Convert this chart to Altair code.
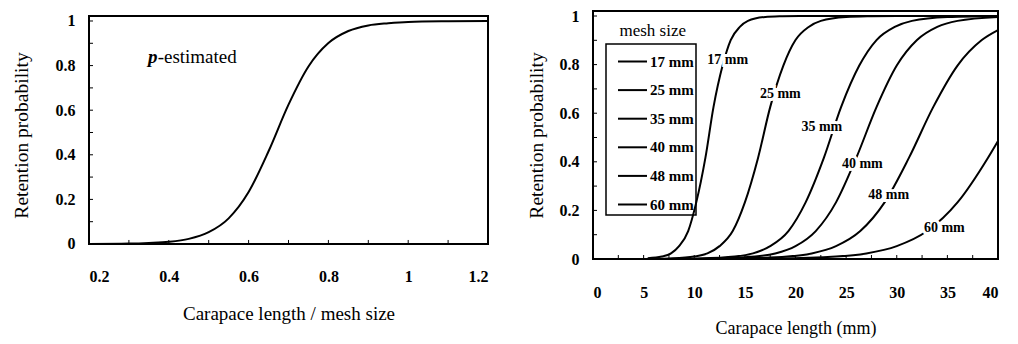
import altair as alt
import pandas as pd

FONT = "Liberation Serif"

# ---------------- left panel data (relative length) ----------------
rel_x = [0.2, 0.3, 0.35, 0.4, 0.45, 0.5, 0.55, 0.6, 0.65, 0.7, 0.75, 0.8, 0.85, 0.9, 0.95, 1.0, 1.1, 1.2]
rel_p = [0.0, 0.002, 0.005, 0.010, 0.023, 0.053, 0.115, 0.233, 0.416, 0.625, 0.796, 0.901, 0.955, 0.980, 0.990, 0.996, 0.999, 1.0]

# ---------------- right panel data (carapace length, mm) ----------------
mesh_names = ["17 mm", "25 mm", "35 mm", "40 mm", "48 mm", "60 mm"]
x17 = [5.4, 6.8, 7.7, 8.5, 9.4, 10.2, 11.1, 11.9, 12.8, 13.6, 14.5, 15.3, 17.0, 18.7, 20.4, 40]
p17 = [0.003, 0.010, 0.023, 0.053, 0.115, 0.233, 0.416, 0.625, 0.796, 0.901, 0.955, 0.980, 0.996, 0.999, 1.0, 1.0]
x25 = [6, 7.5, 10, 11.3, 12.5, 13.8, 15, 16.3, 17.5, 18.8, 20, 21.3, 22.5, 25, 27.5, 30, 40]
p25 = [0.0, 0.002, 0.010, 0.023, 0.053, 0.115, 0.233, 0.416, 0.625, 0.796, 0.901, 0.955, 0.980, 0.996, 0.999, 1.0, 1.0]
x35 = [7, 10.5, 14, 15.8, 17.5, 19.3, 21, 22.8, 24.5, 26.3, 28, 29.8, 31.5, 35, 38.5, 40]
p35 = [0.0, 0.002, 0.010, 0.023, 0.053, 0.115, 0.233, 0.416, 0.625, 0.796, 0.901, 0.955, 0.980, 0.996, 0.999, 1.0]
x40 = [8, 12, 16, 18, 20, 22, 24, 26, 28, 30, 32, 34, 36, 40]
p40 = [0.0, 0.002, 0.010, 0.023, 0.053, 0.115, 0.233, 0.416, 0.625, 0.796, 0.901, 0.955, 0.980, 0.996]
x48 = [9, 14.4, 19.2, 21.6, 24, 26.4, 28.8, 31.2, 33.6, 36, 38.4, 40]
p48 = [0.0, 0.002, 0.010, 0.023, 0.053, 0.115, 0.233, 0.416, 0.625, 0.796, 0.901, 0.942]
x60 = [10, 18, 24, 27, 30, 33, 36, 39, 40]
p60 = [0.0, 0.002, 0.010, 0.023, 0.053, 0.115, 0.233, 0.416, 0.486]

# curve labels on the right panel
lab_text = ["17 mm", "25 mm", "35 mm", "40 mm", "48 mm", "60 mm"]
lab_x = [13.3, 18.5, 22.6, 26.6, 29.2, 34.7]
lab_y = [0.82, 0.68, 0.545, 0.39, 0.263, 0.127]

# tick lists
left_x_labels = [0.2, 0.4, 0.6, 0.8, 1.0, 1.2]
left_x_minor = [0.2, 0.3, 0.4, 0.5, 0.6, 0.7, 0.8, 0.9, 1.0, 1.1, 1.2]
y_labels = [0, 0.2, 0.4, 0.6, 0.8, 1.0]
y_minor = [0, 0.1, 0.2, 0.3, 0.4, 0.5, 0.6, 0.7, 0.8, 0.9, 1.0]
right_x_labels = [0, 5, 10, 15, 20, 25, 30, 35, 40]
right_x_minor = [0, 2.5, 5, 7.5, 10, 12.5, 15, 17.5, 20, 22.5, 25, 27.5, 30, 32.5, 35, 37.5, 40]

# left frame (data extent of the left plot box)
left_frame_x = [0.2, 1.2]
left_frame_y = [0.0, 1.0224]

# ---------------- build tables ----------------
left_df = pd.DataFrame({"x": rel_x, "p": rel_p})
rows = []
for name, xs, ps in zip(mesh_names, [x17, x25, x35, x40, x48, x60], [p17, p25, p35, p40, p48, p60]):
    for xv, pv in zip(xs, ps):
        rows.append({"mesh": name, "x": xv, "p": pv})
right_df = pd.DataFrame(rows)
lab_df = pd.DataFrame({"t": lab_text, "x": lab_x, "p": lab_y})

LW = 399
RW = 405
H = 248

# ---------------- left panel ----------------
lx_scale = alt.Scale(domain=[0.2, 1.2], nice=False, zero=False)
ly_scale = alt.Scale(domain=[-0.0673, 1.0448], nice=False, zero=False)

left_x_axis = alt.Axis(values=left_x_labels, ticks=False, domain=False, grid=False,
                       labelExpr="datum.value == 1 ? '1' : format(datum.value, '.1f')",
                       labelFont=FONT, labelFontSize=16, labelFontWeight="bold", labelColor="black",
                       labelPadding=9, title="Carapace length / mesh size",
                       titleFont=FONT, titleFontSize=19, titleFontWeight="normal", titleColor="black",
                       titlePadding=20)
left_y_axis = alt.Axis(values=y_labels, ticks=False, domain=False, grid=False,
                       labelExpr="datum.value == 0 || datum.value == 1 ? format(datum.value, 'd') : format(datum.value, '.1f')",
                       labelFont=FONT, labelFontSize=16, labelFontWeight="bold", labelColor="black",
                       labelPadding=14, title="Retention probability",
                       titleFont=FONT, titleFontSize=19.5, titleFontWeight="normal", titleColor="black",
                       titlePadding=24)

left_curve = alt.Chart(left_df).mark_line(color="black", strokeWidth=2, interpolate="monotone").encode(
    x=alt.X("x:Q", scale=lx_scale, axis=left_x_axis),
    y=alt.Y("p:Q", scale=ly_scale, axis=left_y_axis),
)
left_frame = alt.Chart(pd.DataFrame({"x": [left_frame_x[0]], "x2": [left_frame_x[1]],
                                     "y": [left_frame_y[0]], "y2": [left_frame_y[1]]})).mark_rect(
    fill="transparent", stroke="black", strokeWidth=2).encode(
    x=alt.X("x:Q", scale=lx_scale), x2="x2:Q", y=alt.Y("y:Q", scale=ly_scale), y2="y2:Q")
left_yt = alt.Chart(pd.DataFrame({"v": y_minor})).mark_rule(color="black", strokeWidth=1).encode(
    y=alt.Y("v:Q", scale=ly_scale), x=alt.value(0), x2=alt.value(4))
left_xt = alt.Chart(pd.DataFrame({"v": left_x_minor, "b": [0.0] * len(left_x_minor),
                                  "t": [0.018] * len(left_x_minor)})).mark_rule(
    color="black", strokeWidth=1).encode(
    x=alt.X("v:Q", scale=lx_scale), y=alt.Y("b:Q", scale=ly_scale), y2="t:Q")

ann_df = pd.DataFrame({"t": ["p", "-estimated"], "x": [0.348, 0.372], "p": [0.84, 0.84]})
left_p = alt.Chart(ann_df.iloc[[0]]).mark_text(font=FONT, fontSize=19, fontStyle="italic", fontWeight="bold",
                                                align="left", baseline="middle", color="black").encode(
    x=alt.X("x:Q", scale=lx_scale), y=alt.Y("p:Q", scale=ly_scale), text="t:N")
left_est = alt.Chart(ann_df.iloc[[1]]).mark_text(font=FONT, fontSize=19, align="left",
                                                  baseline="middle", color="black").encode(
    x=alt.X("x:Q", scale=lx_scale), y=alt.Y("p:Q", scale=ly_scale), text="t:N")

left = alt.layer(left_frame, left_curve, left_yt, left_xt, left_p, left_est).properties(
    width=LW, height=H, view=alt.ViewBackground(stroke="transparent"))

# ---------------- right panel ----------------
rx_scale = alt.Scale(domain=[0, 40], nice=False)
ry_scale = alt.Scale(domain=[0, 1.0206], nice=False)

right_x_axis = alt.Axis(values=right_x_labels, ticks=False, domain=False, grid=False, format="d",
                        labelFont=FONT, labelFontSize=16, labelFontWeight="bold", labelColor="black",
                        labelPadding=25, title="Carapace length (mm)",
                        titleFont=FONT, titleFontSize=18, titleFontWeight="normal", titleColor="black",
                        titlePadding=19)
right_y_axis = alt.Axis(values=y_labels, ticks=False, domain=False, grid=False,
                        labelExpr="datum.value == 0 || datum.value == 1 ? format(datum.value, 'd') : format(datum.value, '.1f')",
                        labelFont=FONT, labelFontSize=16, labelFontWeight="bold", labelColor="black",
                        labelPadding=14, title="Retention probability",
                        titleFont=FONT, titleFontSize=19.5, titleFontWeight="normal", titleColor="black",
                        titlePadding=13)

right_curves = alt.Chart(right_df).mark_line(strokeWidth=2, interpolate="monotone").encode(
    x=alt.X("x:Q", scale=rx_scale, axis=right_x_axis),
    y=alt.Y("p:Q", scale=ry_scale, axis=right_y_axis),
    color=alt.Color("mesh:N", sort=mesh_names,
                    scale=alt.Scale(domain=mesh_names, range=["black"] * 6),
                    legend=alt.Legend(title=None, orient="none", legendX=517, legendY=33,
                                      strokeColor="black", padding=2, symbolType="stroke",
                                      symbolSize=841, symbolStrokeWidth=2, symbolOffset=9,
                                      labelOffset=2, labelFont=FONT, labelFontSize=15,
                                      labelFontWeight="bold", labelColor="black", rowPadding=4.6)),
)
right_yt = alt.Chart(pd.DataFrame({"v": y_minor})).mark_rule(color="black", strokeWidth=1).encode(
    y=alt.Y("v:Q", scale=ry_scale), x=alt.value(0), x2=alt.value(4))
right_xt = alt.Chart(pd.DataFrame({"v": right_x_minor})).mark_rule(color="black", strokeWidth=1).encode(
    x=alt.X("v:Q", scale=rx_scale), y=alt.value(H), y2=alt.value(H - 4))

halo = alt.Chart(lab_df).mark_text(font=FONT, fontSize=14, fontWeight="bold", stroke="white",
                                   strokeWidth=6, color="white", align="center", baseline="middle").encode(
    x=alt.X("x:Q", scale=rx_scale), y=alt.Y("p:Q", scale=ry_scale), text="t:N")
labels = alt.Chart(lab_df).mark_text(font=FONT, fontSize=14, fontWeight="bold", color="black",
                                     align="center", baseline="middle").encode(
    x=alt.X("x:Q", scale=rx_scale), y=alt.Y("p:Q", scale=ry_scale), text="t:N")
legend_title = alt.Chart(pd.DataFrame({"t": ["mesh size"], "x": [5.9], "p": [0.94]})).mark_text(
    font=FONT, fontSize=17, color="black", align="center", baseline="middle").encode(
    x=alt.X("x:Q", scale=rx_scale), y=alt.Y("p:Q", scale=ry_scale), text="t:N")

right = alt.layer(right_curves, right_yt, right_xt, halo, labels, legend_title).properties(
    width=RW, height=H)

chart = alt.hconcat(left, right, spacing=32).properties(
    padding={"top": -1, "left": 2, "right": 0, "bottom": 0}
).configure_view(stroke="black", strokeWidth=2).configure_legend(strokeWidth=1.5)

chart.save("out.html", embed_options={"renderer": "svg", "actions": False})
